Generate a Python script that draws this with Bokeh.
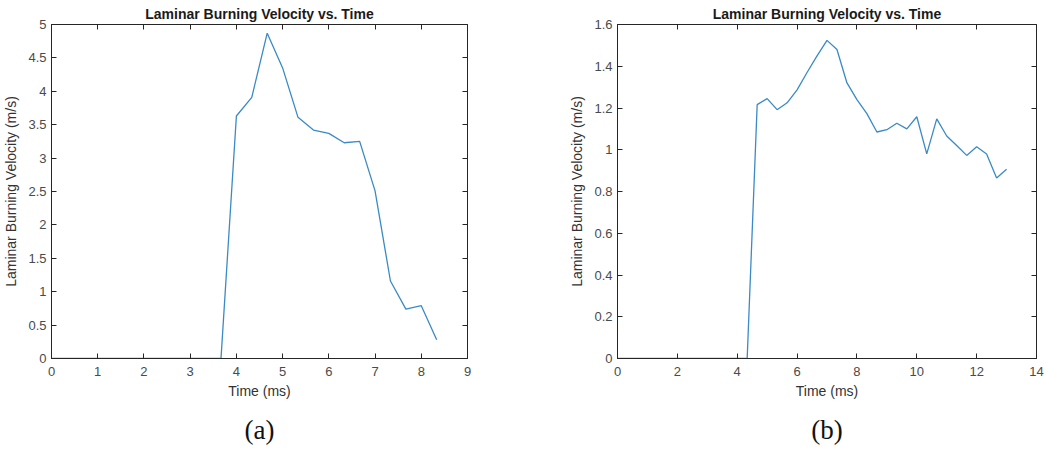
from bokeh.plotting import figure
from bokeh.models import Range1d, FixedTicker, LinearAxis, Title
from bokeh.layouts import row
from bokeh.embed import file_html
from bokeh.resources import INLINE

# ---------------- data ----------------
time_a = [0, 0.333, 0.667, 1.0, 1.333, 1.667, 2.0, 2.333, 2.667, 3.0, 3.333, 3.667,
          4.0, 4.333, 4.667, 5.0, 5.333, 5.667, 6.0, 6.333, 6.667, 7.0, 7.333, 7.667,
          8.0, 8.333]
vel_a = [0, 0, 0, 0, 0, 0, 0, 0, 0, 0, 0, 0,
         3.63, 3.91, 4.87, 4.35, 3.61, 3.42, 3.37, 3.23, 3.25, 2.51, 1.16, 0.74,
         0.79, 0.28]

time_b = [0, 0.333, 0.667, 1.0, 1.333, 1.667, 2.0, 2.333, 2.667, 3.0, 3.333, 3.667,
          4.0, 4.333, 4.667, 5.0, 5.333, 5.667, 6.0, 6.333, 6.667, 7.0, 7.333, 7.667,
          8.0, 8.333, 8.667, 9.0, 9.333, 9.667, 10.0, 10.333, 10.667, 11.0, 11.333,
          11.667, 12.0, 12.333, 12.667, 13.0]
vel_b = [0, 0, 0, 0, 0, 0, 0, 0, 0, 0, 0, 0, 0, 0,
         1.216, 1.245, 1.192, 1.225, 1.287, 1.37, 1.45, 1.524, 1.48, 1.32,
         1.24, 1.173, 1.085, 1.096, 1.127, 1.10, 1.158, 0.98, 1.148, 1.066, 1.02,
         0.973, 1.014, 0.98, 0.865, 0.907]

xticks_a = [0, 1, 2, 3, 4, 5, 6, 7, 8, 9]
xlabels_a = ["0", "1", "2", "3", "4", "5", "6", "7", "8", "9"]
yticks_a = [0, 0.5, 1, 1.5, 2, 2.5, 3, 3.5, 4, 4.5, 5]
ylabels_a = ["0", "0.5", "1", "1.5", "2", "2.5", "3", "3.5", "4", "4.5", "5"]

xticks_b = [0, 2, 4, 6, 8, 10, 12, 14]
xlabels_b = ["0", "2", "4", "6", "8", "10", "12", "14"]
yticks_b = [0, 0.2, 0.4, 0.6, 0.8, 1.0, 1.2, 1.4, 1.6]
ylabels_b = ["0", "0.2", "0.4", "0.6", "0.8", "1", "1.2", "1.4", "1.6"]

title_text = "Laminar Burning Velocity vs. Time"
xlabel = "Time (ms)"
ylabel = "Laminar Burning Velocity (m/s)"
captions = ["(a)", "(b)"]

FONT = "Liberation Sans"
AX = "#262626"
LINE = "#3a8ac6"


def style_axis(ax, ticks, labels, show_labels=True):
    ax.ticker = FixedTicker(ticks=ticks)
    ax.major_tick_in = 5
    ax.major_tick_out = 0
    ax.minor_tick_line_color = None
    ax.major_tick_line_color = AX
    ax.axis_line_color = AX
    ax.major_label_text_font = FONT
    ax.major_label_text_color = "#4a4a4a"
    if show_labels:
        ax.major_label_overrides = {t: s for t, s in zip(ticks, labels)}
        ax.major_label_text_font_size = "13px"
    else:
        ax.major_label_overrides = {t: "" for t in ticks}
        ax.major_label_text_font_size = "1px"
        ax.major_label_standoff = 0
        ax.axis_line_color = None
    ax.axis_label_text_font = FONT
    ax.axis_label_text_font_size = "14px"
    ax.axis_label_text_font_style = "normal"
    ax.axis_label_text_color = "#333333"


def make(xs, ys, xr, yr, xt, xl, yt, yl, caption, fw, left, right):
    p = figure(frame_width=fw, frame_height=334,
               x_range=Range1d(*xr), y_range=Range1d(*yr),
               output_backend="svg", toolbar_location=None,
               min_border_left=left, min_border_right=right,
               min_border_top=10, min_border_bottom=94)
    p.title.text = title_text
    p.title.text_font = FONT
    p.title.text_font_size = "14px"
    p.title.text_font_style = "bold"
    p.title.text_color = "#1a1a1a"
    p.title.align = "center"
    p.title.standoff = 6
    p.xgrid.grid_line_color = None
    p.ygrid.grid_line_color = None
    p.outline_line_color = AX
    p.outline_line_alpha = 1
    p.outline_line_width = 1
    p.background_fill_color = "white"
    p.border_fill_color = "white"

    style_axis(p.xaxis[0], xt, xl)
    p.xaxis[0].axis_label = xlabel
    p.xaxis[0].major_label_standoff = 8
    p.xaxis[0].axis_label_standoff = 4
    style_axis(p.yaxis[0], yt, yl)
    p.yaxis[0].axis_label = ylabel
    p.yaxis[0].major_label_standoff = 5
    p.yaxis[0].axis_label_standoff = 6

    top = LinearAxis()
    style_axis(top, xt, xl, show_labels=False)
    p.add_layout(top, "above")
    rgt = LinearAxis()
    style_axis(rgt, yt, yl, show_labels=False)
    p.add_layout(rgt, "right")

    cap = Title(text=caption, align="center", text_font="Liberation Serif",
                text_font_size="27px", text_font_style="normal",
                text_color="#111111", standoff=22)
    p.add_layout(cap, "below")

    p.line(xs, ys, line_color=LINE, line_width=1.3)
    return p


p1 = make(time_a, vel_a, (0, 9), (0, 5), xticks_a, xlabels_a, yticks_a, ylabels_a,
          captions[0], 416, 51, 99)
p2 = make(time_b, vel_b, (0, 14), (0, 1.6), xticks_b, xlabels_b, yticks_b, ylabels_b,
          captions[1], 419, 51, 8)

layout = row(p1, p2)
open("out.html", "w").write(file_html(layout, INLINE))
